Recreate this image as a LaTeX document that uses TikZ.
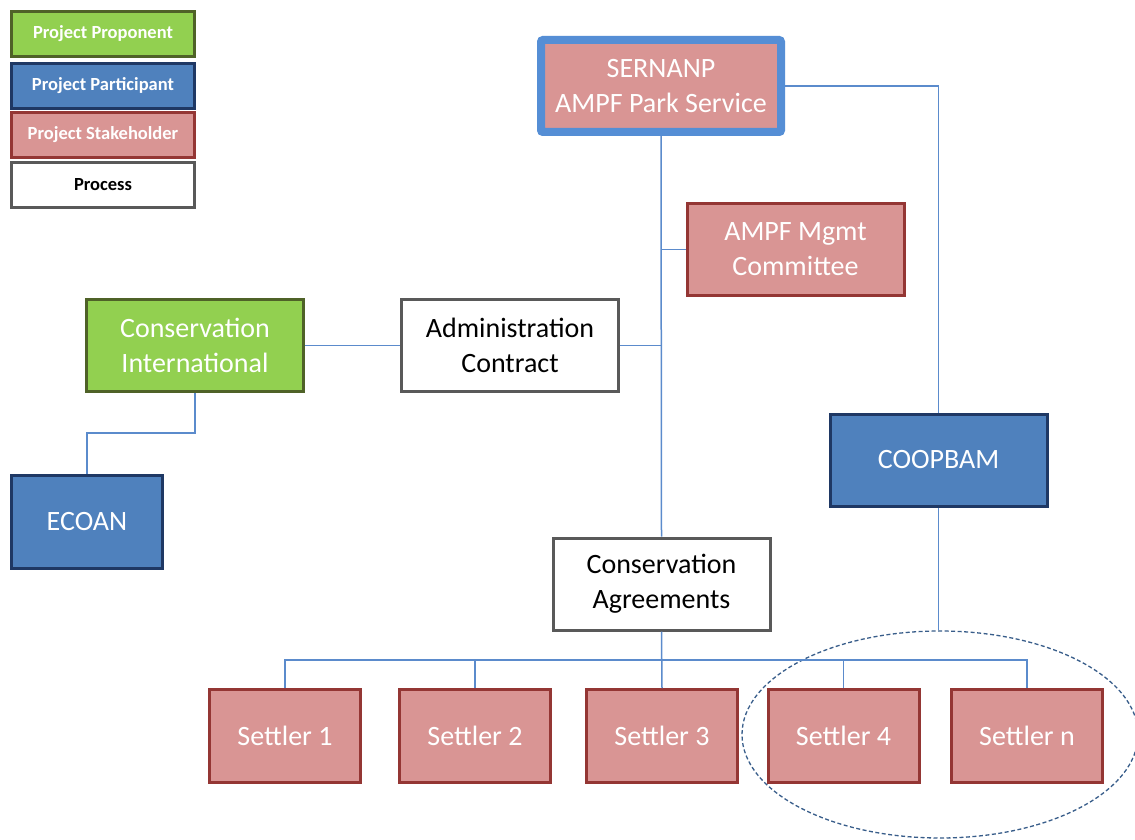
\documentclass[tikz,border=0pt]{standalone}
\usepackage{fontspec}
\setmainfont{Carlito}
\usetikzlibrary{calc,shapes.geometric}
\definecolor{greenfill}{HTML}{92D050}
\definecolor{greenline}{HTML}{4F6228}
\definecolor{bluefill}{HTML}{4F81BD}
\definecolor{blueline}{HTML}{1F3864}
\definecolor{pinkfill}{HTML}{D99594}
\definecolor{pinkline}{HTML}{943634}
\definecolor{procline}{HTML}{595959}
\definecolor{sernline}{HTML}{558ED5}
\definecolor{conn}{HTML}{5B8BCC}
\definecolor{ellline}{HTML}{385D8A}
\tikzset{
  box/.style={rectangle, line width=3pt, align=center, inner sep=0pt,
    font=\fontsize{28}{35}\selectfont},
  proponent/.style={box, fill=greenfill, draw=greenline, text=white},
  participant/.style={box, fill=bluefill, draw=blueline, text=white},
  stakeholder/.style={box, fill=pinkfill, draw=pinkline, text=white},
  process/.style={box, fill=white, draw=procline, text=black},
  legendbox/.style={minimum width=183pt, minimum height=45pt,
    font=\fontsize{18.5}{22}\selectfont\bfseries},
  bigbox/.style={minimum width=217pt, minimum height=92pt},
  settler/.style={stakeholder, minimum width=151pt, minimum height=93pt},
  link/.style={draw=conn, line width=1.5pt}
}
\begin{document}
\begin{tikzpicture}[x=1pt,y=-1pt]
\useasboundingbox[fill=white] (0,0) rectangle (1135,840);
% legend
\node[proponent, legendbox] (lg1) at (103,34) {Project Proponent};
\node[participant, legendbox] (lg2) at (103,86) {Project Participant};
\node[stakeholder, legendbox] (lg3) at (103,135) {Project Stakeholder};
\node[process, legendbox] (lg4) at (103,185) {Process};
% main nodes
\node[stakeholder, draw=sernline, line width=8pt, rounded corners=2pt,
  minimum width=240pt, minimum height=92pt] (sern) at (661,86)
  {SERNANP\\AMPF Park Service};
\node[stakeholder, bigbox] (ampf) at (795.5,249.5) {AMPF Mgmt\\Committee};
\node[proponent, bigbox] (ci) at (195,345.5) {Conservation\\International};
\node[process, bigbox] (admin) at (510,345.5) {Administration\\Contract};
\node[participant, minimum width=151pt, minimum height=93pt] (ecoan) at (87,522) {ECOAN};
\node[participant, bigbox] (coop) at (938.5,460) {COOPBAM};
\node[process, bigbox] (agr) at (661.5,584) {Conservation\\Agreements};
\node[settler] (s1) at (285,736) {Settler 1};
\node[settler] (s2) at (475,736) {Settler 2};
\node[settler] (s3) at (662,736) {Settler 3};
\node[settler] (s4) at (843.5,736) {Settler 4};
\node[settler] (sn) at (1027,736) {Settler n};
\node[ellipse, draw=ellline, dash pattern=on 4pt off 2.5pt, line width=1.3pt,
  minimum width=396pt, minimum height=207pt, inner sep=0pt] (ell) at (940,734.5) {};
% connectors
\draw[link] (sern.south) -- (agr.north);
\draw[link] (ampf.west) -- (ampf.west -| sern.south);
\draw[link] (admin.east) -- (admin.east -| sern.south);
\draw[link] (ci.east) -- (admin.west);
\draw[link] (ci.south) -- ++(0,40) -| (ecoan.north);
\draw[link] (sern.east) -| (coop.north);
\draw[link] (coop.south) -- (coop.south |- ell.north);
\coordinate (bus) at (661,660);
\draw[link] (agr.south) -- (s3.north);
\draw[link] (s1.north) |- (bus) -| (sn.north);
\draw[link] (s2.north) -- (s2.north |- bus);
\draw[link] (s4.north) -- (s4.north |- bus);
\end{tikzpicture}
\end{document}
